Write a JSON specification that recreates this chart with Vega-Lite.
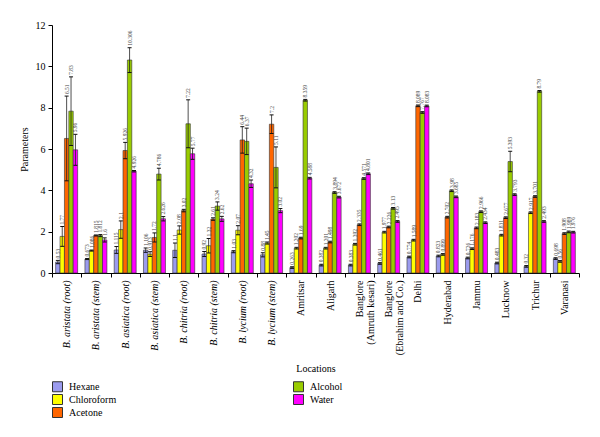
{
  "$schema": "https://vega.github.io/schema/vega-lite/v6.json",
  "width": 527,
  "height": 248,
  "autosize": "none",
  "padding": {"left": 52, "top": 25, "right": 21, "bottom": 164},
  "background": "white",
  "config": {
    "font": "Liberation Serif",
    "view": {"stroke": null},
    "axis": {"domainColor": "#000", "tickColor": "#000", "labelColor": "#000", "titleColor": "#000", "titleFontWeight": "normal", "labelFontSize": 10, "titleFontSize": 10, "tickSize": 4}
  },
  "data": {"values": [
    {"c": "B. aristata (root)", "s": "Hexane", "v": 0.53, "lo": 0.45, "hi": 0.61},
    {"c": "B. aristata (root)", "s": "Chloroform", "v": 1.77, "lo": 1.29, "hi": 2.25},
    {"c": "B. aristata (root)", "s": "Acetone", "v": 6.51, "lo": 4.46, "hi": 8.56},
    {"c": "B. aristata (root)", "s": "Alcohol", "v": 7.83, "lo": 6.17, "hi": 9.49},
    {"c": "B. aristata (root)", "s": "Water", "v": 5.96, "lo": 5.21, "hi": 6.71},
    {"c": "B. aristata (stem)", "s": "Hexane", "v": 0.673, "lo": 0.65, "hi": 0.70},
    {"c": "B. aristata (stem)", "s": "Chloroform", "v": 1.086, "lo": 1.06, "hi": 1.11},
    {"c": "B. aristata (stem)", "s": "Acetone", "v": 1.815, "lo": 1.79, "hi": 1.84},
    {"c": "B. aristata (stem)", "s": "Alcohol", "v": 1.812, "lo": 1.76, "hi": 1.86},
    {"c": "B. aristata (stem)", "s": "Water", "v": 1.6, "lo": 1.5, "hi": 1.7},
    {"c": "B. asiatica (root)", "s": "Hexane", "v": 1.115, "lo": 0.95, "hi": 1.28},
    {"c": "B. asiatica (root)", "s": "Chloroform", "v": 2.1, "lo": 1.68, "hi": 2.52},
    {"c": "B. asiatica (root)", "s": "Acetone", "v": 5.926, "lo": 5.53, "hi": 6.32},
    {"c": "B. asiatica (root)", "s": "Alcohol", "v": 10.306, "lo": 9.7, "hi": 10.9},
    {"c": "B. asiatica (root)", "s": "Water", "v": 4.926, "lo": 4.89, "hi": 4.96},
    {"c": "B. asiatica (stem)", "s": "Hexane", "v": 1.106, "lo": 1.0, "hi": 1.21},
    {"c": "B. asiatica (stem)", "s": "Chloroform", "v": 0.913, "lo": 0.8, "hi": 1.03},
    {"c": "B. asiatica (stem)", "s": "Acetone", "v": 1.72, "lo": 1.5, "hi": 1.94},
    {"c": "B. asiatica (stem)", "s": "Alcohol", "v": 4.786, "lo": 4.5, "hi": 5.07},
    {"c": "B. asiatica (stem)", "s": "Water", "v": 2.626, "lo": 2.52, "hi": 2.73},
    {"c": "B. chitria (root)", "s": "Hexane", "v": 1.1, "lo": 0.75, "hi": 1.45},
    {"c": "B. chitria (root)", "s": "Chloroform", "v": 2.08, "lo": 1.88, "hi": 2.28},
    {"c": "B. chitria (root)", "s": "Acetone", "v": 3.02, "lo": 2.96, "hi": 3.08},
    {"c": "B. chitria (root)", "s": "Alcohol", "v": 7.22, "lo": 6.06, "hi": 8.38},
    {"c": "B. chitria (root)", "s": "Water", "v": 5.77, "lo": 5.5, "hi": 6.04},
    {"c": "B. chitria (stem)", "s": "Hexane", "v": 0.92, "lo": 0.8, "hi": 1.04},
    {"c": "B. chitria (stem)", "s": "Chloroform", "v": 1.32, "lo": 0.97, "hi": 1.67},
    {"c": "B. chitria (stem)", "s": "Acetone", "v": 2.61, "lo": 2.55, "hi": 2.67},
    {"c": "B. chitria (stem)", "s": "Alcohol", "v": 3.24, "lo": 3.04, "hi": 3.44},
    {"c": "B. chitria (stem)", "s": "Water", "v": 2.62, "lo": 2.5, "hi": 2.74},
    {"c": "B. lycium (root)", "s": "Hexane", "v": 1.03, "lo": 0.98, "hi": 1.08},
    {"c": "B. lycium (root)", "s": "Chloroform", "v": 2.07, "lo": 1.85, "hi": 2.29},
    {"c": "B. lycium (root)", "s": "Acetone", "v": 6.44, "lo": 5.8, "hi": 7.08},
    {"c": "B. lycium (root)", "s": "Alcohol", "v": 6.37, "lo": 5.73, "hi": 7.01},
    {"c": "B. lycium (root)", "s": "Water", "v": 4.32, "lo": 4.14, "hi": 4.5},
    {"c": "B. lycium (stem)", "s": "Hexane", "v": 0.88, "lo": 0.78, "hi": 0.98},
    {"c": "B. lycium (stem)", "s": "Chloroform", "v": 1.45, "lo": 1.4, "hi": 1.5},
    {"c": "B. lycium (stem)", "s": "Acetone", "v": 7.2, "lo": 6.75, "hi": 7.65},
    {"c": "B. lycium (stem)", "s": "Alcohol", "v": 5.11, "lo": 4.12, "hi": 6.1},
    {"c": "B. lycium (stem)", "s": "Water", "v": 3.02, "lo": 2.92, "hi": 3.12},
    {"c": "Amritsar", "s": "Hexane", "v": 0.263, "lo": 0.223, "hi": 0.303},
    {"c": "Amritsar", "s": "Chloroform", "v": 1.202, "lo": 1.162, "hi": 1.242},
    {"c": "Amritsar", "s": "Acetone", "v": 1.69, "lo": 1.65, "hi": 1.73},
    {"c": "Amritsar", "s": "Alcohol", "v": 8.359, "lo": 8.319, "hi": 8.399},
    {"c": "Amritsar", "s": "Water", "v": 4.588, "lo": 4.548, "hi": 4.628},
    {"c": "Aligarh", "s": "Hexane", "v": 0.382, "lo": 0.342, "hi": 0.422},
    {"c": "Aligarh", "s": "Chloroform", "v": 1.201, "lo": 1.161, "hi": 1.241},
    {"c": "Aligarh", "s": "Acetone", "v": 1.498, "lo": 1.458, "hi": 1.538},
    {"c": "Aligarh", "s": "Alcohol", "v": 3.894, "lo": 3.854, "hi": 3.934},
    {"c": "Aligarh", "s": "Water", "v": 3.672, "lo": 3.632, "hi": 3.712},
    {"c": "Banglore|(Amruth kesari)", "s": "Hexane", "v": 0.383, "lo": 0.343, "hi": 0.423},
    {"c": "Banglore|(Amruth kesari)", "s": "Chloroform", "v": 1.392, "lo": 1.352, "hi": 1.432},
    {"c": "Banglore|(Amruth kesari)", "s": "Acetone", "v": 2.335, "lo": 2.295, "hi": 2.375},
    {"c": "Banglore|(Amruth kesari)", "s": "Alcohol", "v": 4.571, "lo": 4.531, "hi": 4.611},
    {"c": "Banglore|(Amruth kesari)", "s": "Water", "v": 4.801, "lo": 4.761, "hi": 4.841},
    {"c": "Banglore|(Ebrahim and Co.)", "s": "Hexane", "v": 0.461, "lo": 0.421, "hi": 0.501},
    {"c": "Banglore|(Ebrahim and Co.)", "s": "Chloroform", "v": 1.977, "lo": 1.937, "hi": 2.017},
    {"c": "Banglore|(Ebrahim and Co.)", "s": "Acetone", "v": 2.226, "lo": 2.186, "hi": 2.266},
    {"c": "Banglore|(Ebrahim and Co.)", "s": "Alcohol", "v": 3.13, "lo": 3.09, "hi": 3.17},
    {"c": "Banglore|(Ebrahim and Co.)", "s": "Water", "v": 2.495, "lo": 2.455, "hi": 2.535},
    {"c": "Delhi", "s": "Hexane", "v": 0.774, "lo": 0.734, "hi": 0.814},
    {"c": "Delhi", "s": "Chloroform", "v": 1.589, "lo": 1.549, "hi": 1.629},
    {"c": "Delhi", "s": "Acetone", "v": 8.089, "lo": 8.049, "hi": 8.129},
    {"c": "Delhi", "s": "Alcohol", "v": 7.767, "lo": 7.727, "hi": 7.807},
    {"c": "Delhi", "s": "Water", "v": 8.083, "lo": 8.043, "hi": 8.123},
    {"c": "Hyderabad", "s": "Hexane", "v": 0.823, "lo": 0.783, "hi": 0.863},
    {"c": "Hyderabad", "s": "Chloroform", "v": 0.899, "lo": 0.859, "hi": 0.939},
    {"c": "Hyderabad", "s": "Acetone", "v": 2.702, "lo": 2.662, "hi": 2.742},
    {"c": "Hyderabad", "s": "Alcohol", "v": 3.98, "lo": 3.94, "hi": 4.02},
    {"c": "Hyderabad", "s": "Water", "v": 3.685, "lo": 3.645, "hi": 3.725},
    {"c": "Jammu", "s": "Hexane", "v": 0.726, "lo": 0.686, "hi": 0.766},
    {"c": "Jammu", "s": "Chloroform", "v": 1.176, "lo": 1.136, "hi": 1.216},
    {"c": "Jammu", "s": "Acetone", "v": 2.183, "lo": 2.143, "hi": 2.223},
    {"c": "Jammu", "s": "Alcohol", "v": 2.966, "lo": 2.926, "hi": 3.006},
    {"c": "Jammu", "s": "Water", "v": 2.434, "lo": 2.394, "hi": 2.474},
    {"c": "Lucknow", "s": "Hexane", "v": 0.483, "lo": 0.443, "hi": 0.523},
    {"c": "Lucknow", "s": "Chloroform", "v": 1.831, "lo": 1.791, "hi": 1.871},
    {"c": "Lucknow", "s": "Acetone", "v": 2.677, "lo": 2.637, "hi": 2.717},
    {"c": "Lucknow", "s": "Alcohol", "v": 5.393, "lo": 4.9, "hi": 5.89},
    {"c": "Lucknow", "s": "Water", "v": 3.793, "lo": 3.753, "hi": 3.833},
    {"c": "Trichur", "s": "Hexane", "v": 0.32, "lo": 0.28, "hi": 0.36},
    {"c": "Trichur", "s": "Chloroform", "v": 2.917, "lo": 2.877, "hi": 2.957},
    {"c": "Trichur", "s": "Acetone", "v": 3.701, "lo": 3.661, "hi": 3.741},
    {"c": "Trichur", "s": "Alcohol", "v": 8.79, "lo": 8.75, "hi": 8.83},
    {"c": "Trichur", "s": "Water", "v": 2.493, "lo": 2.453, "hi": 2.533},
    {"c": "Varanasi", "s": "Hexane", "v": 0.698, "lo": 0.658, "hi": 0.738},
    {"c": "Varanasi", "s": "Chloroform", "v": 0.56, "lo": 0.52, "hi": 0.6},
    {"c": "Varanasi", "s": "Acetone", "v": 1.908, "lo": 1.868, "hi": 1.948},
    {"c": "Varanasi", "s": "Alcohol", "v": 1.989, "lo": 1.949, "hi": 2.029},
    {"c": "Varanasi", "s": "Water", "v": 1.976, "lo": 1.936, "hi": 2.016}
  ]},
  "encoding": {
    "x": {
      "field": "c", "type": "nominal", "sort": null,
      "scale": {"paddingInner": 0, "paddingOuter": 0},
      "axis": {
        "title": "Locations", "labelAngle": -90, "labelExpr": "datum.value ? split(datum.value, '|') : ''",
        "labelLineHeight": 11, "tickBand": "extent", "labelPadding": 3, "titlePadding": 9,
        "labelOverlap": false,
        "labelFontStyle": {"condition": {"test": "datum.value && indexof(datum.value, 'B.') === 0", "value": "italic"}, "value": "normal"}
      }
    },
    "xOffset": {
      "field": "s", "type": "nominal", "sort": null,
      "scale": {"domain": ["Hexane", "Chloroform", "Acetone", "Alcohol", "Water"], "paddingInner": 0, "paddingOuter": 0.83}
    }
  },
  "layer": [
    {
      "mark": {"type": "bar", "stroke": "#333", "strokeWidth": 0.6},
      "encoding": {
        "y": {"field": "v", "type": "quantitative", "scale": {"domain": [0, 12]},
          "axis": {"title": "Parameters", "grid": false, "values": [0, 2, 4, 6, 8, 10, 12], "titlePadding": 6, "labelPadding": 3}},
        "color": {"field": "s", "type": "nominal",
          "scale": {"domain": ["Hexane", "Chloroform", "Acetone", "Alcohol", "Water"], "range": ["#9b9bee", "#ffff00", "#ff6600", "#99cc00", "#ff00ff"]},
          "legend": {"title": null, "orient": "none", "legendX": 0, "legendY": 356, "columns": 2, "columnPadding": 174, "symbolType": "square", "symbolSize": 100, "symbolStrokeColor": "#333", "symbolStrokeWidth": 1, "symbolOpacity": 1, "labelFontSize": 10, "labelColor": "#000", "rowPadding": -3, "padding": 0, "labelOffset": 6}}
      }
    },
    {
      "mark": {"type": "rule", "color": "#222", "strokeWidth": 0.8},
      "encoding": {"y": {"field": "lo", "type": "quantitative"}, "y2": {"field": "hi"}}
    },
    {
      "mark": {"type": "point", "shape": "M-1,0L1,0", "filled": false, "color": "#111", "strokeWidth": 1, "size": 16, "opacity": 1},
      "encoding": {"y": {"field": "hi", "type": "quantitative"}}
    },
    {
      "mark": {"type": "point", "shape": "M-1,0L1,0", "filled": false, "color": "#111", "strokeWidth": 1, "size": 16, "opacity": 1},
      "encoding": {"y": {"field": "lo", "type": "quantitative"}}
    },
    {
      "mark": {"type": "text", "angle": 270, "align": "left", "baseline": "middle", "dx": 2, "fontSize": 5.5, "color": "#444"},
      "encoding": {"y": {"field": "hi", "type": "quantitative"}, "text": {"field": "v", "type": "nominal"}}
    }
  ]
}
